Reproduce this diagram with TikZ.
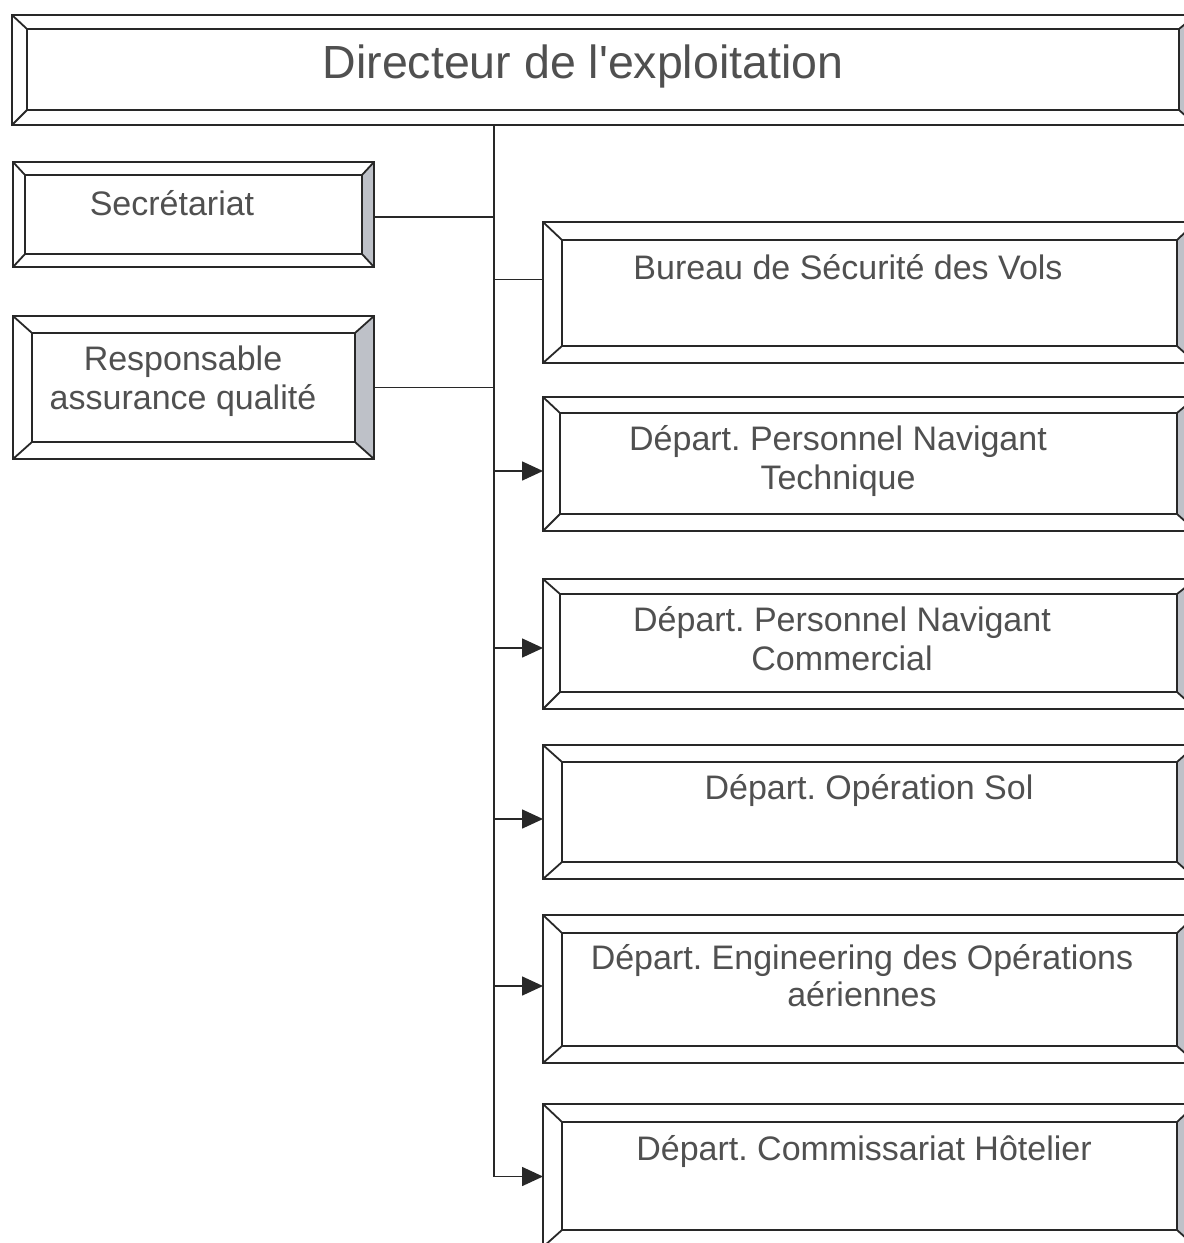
\documentclass[tikz,border=0pt]{standalone}
\usepackage{fontspec}
\setmainfont{Liberation Sans}
\usetikzlibrary{arrows.meta,calc}

\definecolor{inkline}{RGB}{40,40,40}
\definecolor{inktext}{RGB}{80,80,80}
\definecolor{bevelgray}{RGB}{190,193,200}

\tikzset{
  frame/.style={draw=inkline, line width=1.8pt, line join=miter},
  boxframe/.style={frame, rectangle, inner sep=0pt, outer sep=0pt},
  lbl/.style={text=inktext, align=center, inner sep=0pt,
    font=\fontsize{34}{39}\selectfont},
  titlelbl/.style={lbl, font=\fontsize{46.5}{52}\selectfont},
  link/.style={draw=inkline, line width=1.6pt},
  arrowlink/.style={link, -{Triangle[length=21pt,width=19pt]}},
}

% Bevelled frame: name, x1, y1, x2, y2, inset left, top, right, bottom
\newcommand\bevelbox[9]{%
  \fill[bevelgray] (#4,#3) -- (#4-#8,#3+#7) -- (#4-#8,#5-#9) -- (#4,#5) -- cycle;
  \node[boxframe, anchor=north west, minimum width={#4-#2}, minimum height={#5-#3}] (#1) at (#2,#3) {};
  \coordinate (#1-itl) at (#2+#6,#3+#7);
  \coordinate (#1-itr) at (#4-#8,#3+#7);
  \coordinate (#1-ibl) at (#2+#6,#5-#9);
  \coordinate (#1-ibr) at (#4-#8,#5-#9);
  \draw[frame] (#1-itl) rectangle (#1-ibr);
  \draw[frame] (#1.north west) -- (#1-itl) (#1.south west) -- (#1-ibl)
               (#1.north east) -- (#1-itr) (#1.south east) -- (#1-ibr);
}

\begin{document}
\frenchspacing
\begin{tikzpicture}[x=1pt,y=-1pt]
\useasboundingbox (0,0) rectangle (1184,1243);
\fill[white] (0,0) rectangle (1184,1243);
\clip (0,0) rectangle (1184,1243);

% boxes
\bevelbox{dir}{12}{15}{1196}{125}{15}{14}{17}{15}
\bevelbox{secr}{13}{162}{374}{267}{12}{13}{12}{13}
\bevelbox{qual}{13}{316}{374}{459}{19}{17}{19}{17}
\bevelbox{bsv}{543}{222}{1196}{363}{19}{18}{19}{17}
\bevelbox{pnt}{543}{397}{1196}{531}{17}{16}{19}{17}
\bevelbox{pnc}{543}{579}{1196}{709}{17}{15}{19}{17}
\bevelbox{sol}{543}{745}{1196}{879}{19}{17}{19}{17}
\bevelbox{eng}{543}{915}{1196}{1063}{19}{18}{19}{17}
\bevelbox{com}{543}{1104}{1196}{1247}{19}{18}{19}{17}

% labels
\node[titlelbl] (dir-t) at (583,66) {Directeur de l\textquotesingle exploitation};
\node[lbl] (secr-t) at (172,203) {Secrétariat};
\node[lbl] (qual-t) at (183,381) {Responsable\\assurance qualité};
\node[lbl] (bsv-t) at (848,267) {Bureau de Sécurité des Vols};
\node[lbl] (pnt-t) at (838,461) {Départ. Personnel Navigant\\Technique};
\node[lbl] (pnc-t) at (842,639) {Départ. Personnel Navigant\\Commercial};
\node[lbl] (sol-t) at (869,790) {Départ. Opération Sol};
\node[lbl, font=\fontsize{34}{37}\selectfont] (eng-t) at (862,976) {Départ. Engineering des Opérations\\aériennes};
\node[lbl] (com-t) at (864,1151) {Départ. Commissariat Hôtelier};

% spine
\coordinate (spine) at (494,125);
\coordinate (com-in) at ([yshift=-1pt]com.west);
\draw[link] (dir.south -| spine) -- (spine |- com-in);

% side links
\draw[link] ([yshift=-2.5pt]secr.east) -- ([yshift=-2.5pt]secr.east -| spine);
\draw[link] (qual.east) -- (qual.east -| spine);
\draw[link] ([yshift=13pt]bsv.west -| spine) -- ([yshift=13pt]bsv.west);

% arrows into departments
\draw[arrowlink] ([yshift=-7pt]pnt.west -| spine) -- ([yshift=-7pt]pnt.west);
\draw[arrowlink] ([yshift=-4pt]pnc.west -| spine) -- ([yshift=-4pt]pnc.west);
\draw[arrowlink] ([yshift=-7pt]sol.west -| spine) -- ([yshift=-7pt]sol.west);
\draw[arrowlink] ([yshift=3pt]eng.west -| spine) -- ([yshift=3pt]eng.west);
\draw[arrowlink] (com-in -| spine) -- (com-in);
\end{tikzpicture}
\end{document}
